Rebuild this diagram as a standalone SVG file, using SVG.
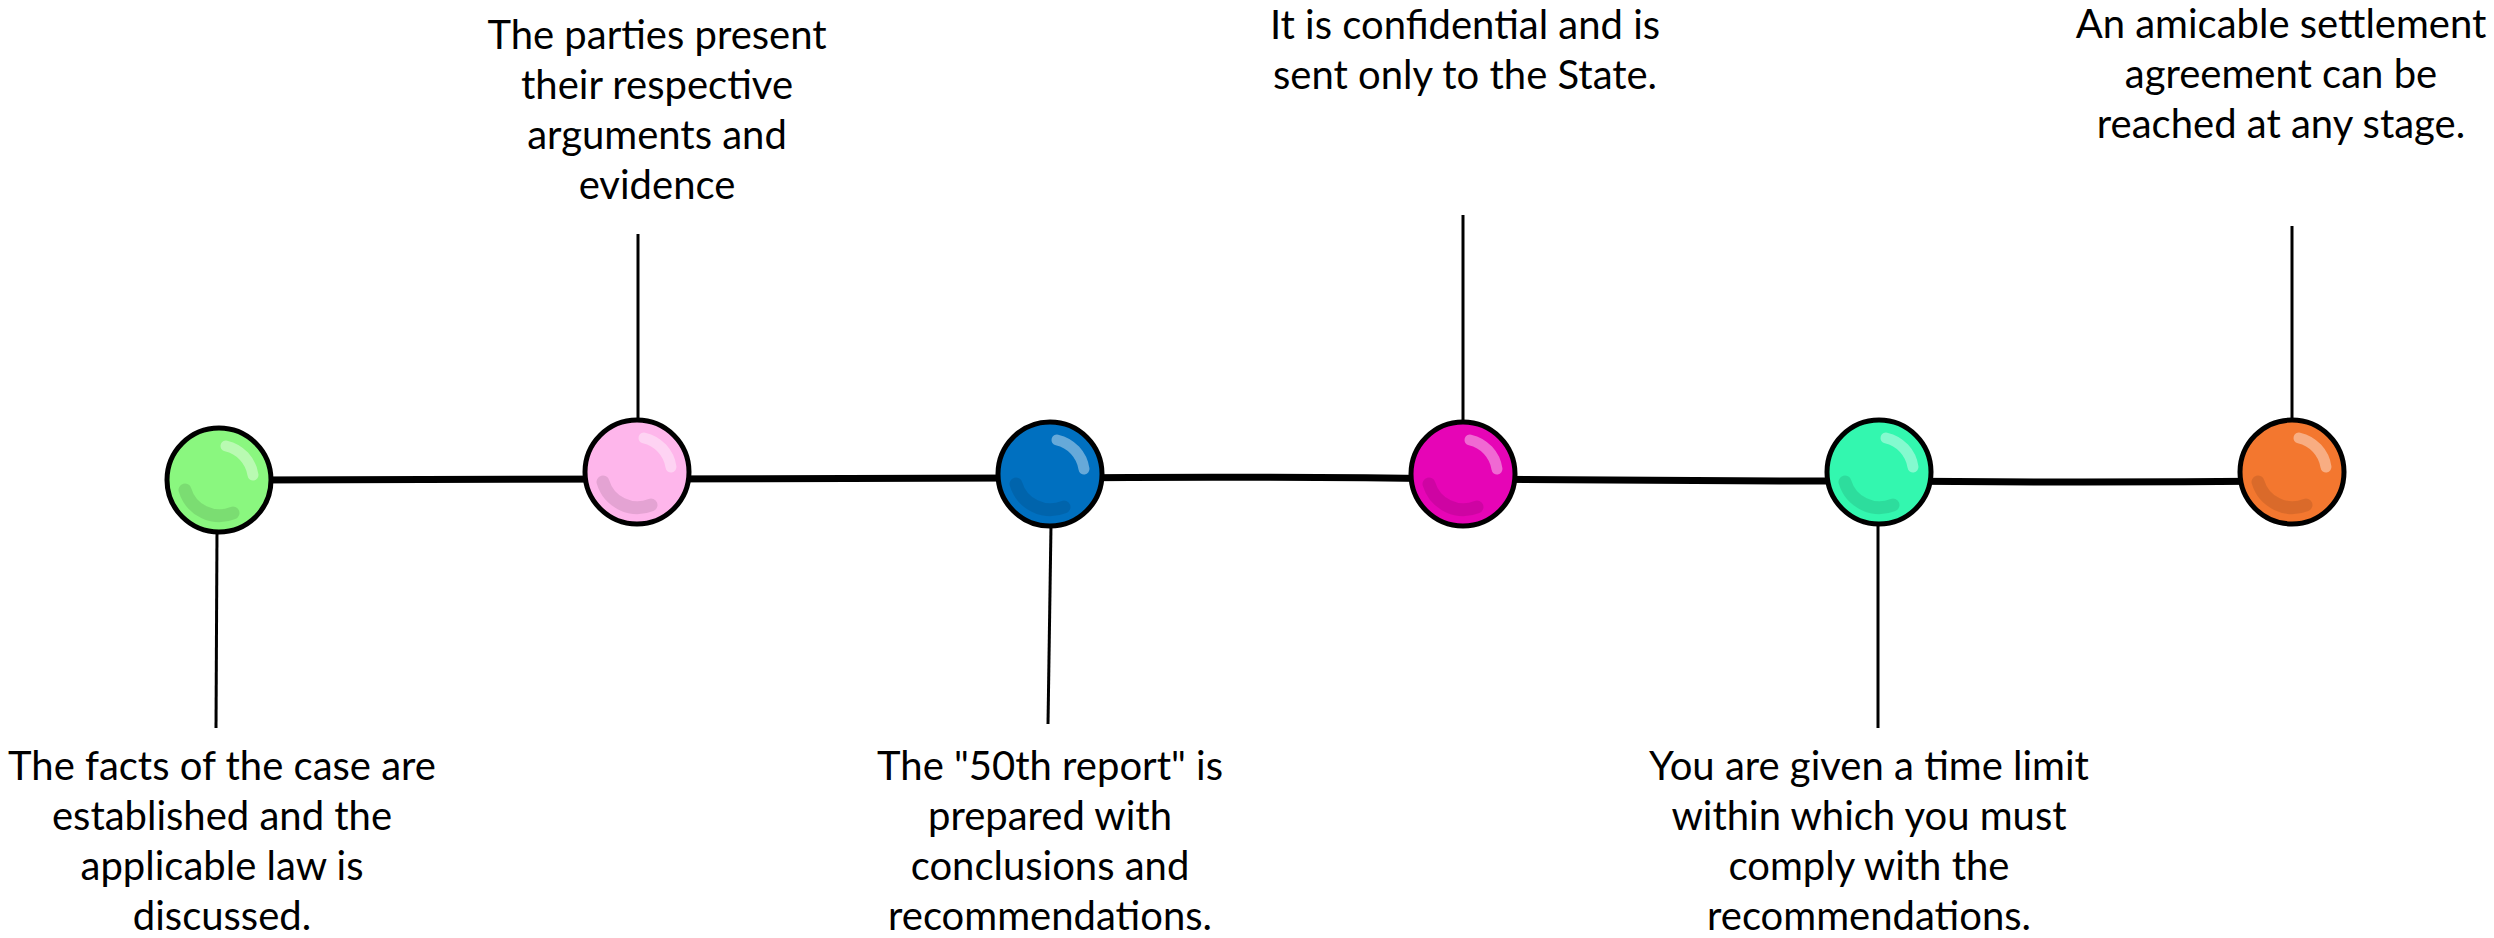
<svg xmlns="http://www.w3.org/2000/svg" width="2494" height="938" viewBox="0 0 2494 938">
<defs>
<style>
.lbl{font-family:Lato,"Liberation Sans",sans-serif;font-size:40px;fill:#000;text-anchor:middle}
.ball{stroke:#000;stroke-width:5}
.hi{fill:none;stroke:#fff;stroke-opacity:0.4;stroke-width:11;stroke-linecap:round}
.sh{fill:none;stroke:#000;stroke-opacity:0.1;stroke-width:13;stroke-linecap:round}
.stem{stroke:#000;stroke-width:3;fill:none}
.main{stroke:#000;stroke-width:7;fill:none}
</style>
<g id="sphere">
<path class="hi" d="M 7 -34 A 35 35 0 0 1 34 -5"/>
<path class="sh" d="M -34 10 A 36 36 0 0 0 14 33"/>
</g>
</defs>
<rect width="2494" height="938" fill="#fff"/>
<g id="connectors">
<path class="main" d="M 219 480 L 637 479 Q 840 478 1050 478 Q 1250 476 1463 479 Q 1670 481 1879 481 Q 2080 483 2292 481"/>
<line class="stem" x1="217" y1="530" x2="216" y2="728"/>
<line class="stem" x1="638" y1="234" x2="638" y2="422"/>
<line class="stem" x1="1051" y1="525" x2="1048" y2="724"/>
<line class="stem" x1="1463" y1="215" x2="1463" y2="424"/>
<line class="stem" x1="1878" y1="522" x2="1878" y2="728"/>
<line class="stem" x1="2292" y1="226" x2="2292" y2="422"/>
</g>
<g id="node1">
<circle class="ball" cx="219" cy="480" r="52" fill="#8AF77F"/>
<use href="#sphere" x="219" y="480"/>
<text class="lbl"><tspan x="222" y="780">The facts of the case are</tspan><tspan x="222" y="830">established and the</tspan><tspan x="222" y="880">applicable law is</tspan><tspan x="222" y="930">discussed.</tspan></text>
</g>
<g id="node2">
<circle class="ball" cx="637" cy="472" r="52" fill="#FEB6EB"/>
<use href="#sphere" x="637" y="472"/>
<text class="lbl"><tspan x="657" y="49">The parties present</tspan><tspan x="657" y="99">their respective</tspan><tspan x="657" y="149">arguments and</tspan><tspan x="657" y="199">evidence</tspan></text>
</g>
<g id="node3">
<circle class="ball" cx="1050" cy="474" r="52" fill="#0070C0"/>
<use href="#sphere" x="1050" y="474"/>
<text class="lbl"><tspan x="1050" y="780">The "50th report" is</tspan><tspan x="1050" y="830">prepared with</tspan><tspan x="1050" y="880">conclusions and</tspan><tspan x="1050" y="930">recommendations.</tspan></text>
</g>
<g id="node4">
<circle class="ball" cx="1463" cy="474" r="52" fill="#E605B6"/>
<use href="#sphere" x="1463" y="474"/>
<text class="lbl"><tspan x="1465" y="39">It is confidential and is</tspan><tspan x="1465" y="89">sent only to the State.</tspan></text>
</g>
<g id="node5">
<circle class="ball" cx="1879" cy="472" r="52" fill="#33F7AF"/>
<use href="#sphere" x="1879" y="472"/>
<text class="lbl"><tspan x="1869" y="780">You are given a time limit</tspan><tspan x="1869" y="830">within which you must</tspan><tspan x="1869" y="880">comply with the</tspan><tspan x="1869" y="930">recommendations.</tspan></text>
</g>
<g id="node6">
<circle class="ball" cx="2292" cy="472" r="52" fill="#F3772F"/>
<use href="#sphere" x="2292" y="472"/>
<text class="lbl"><tspan x="2281" y="38">An amicable settlement</tspan><tspan x="2281" y="88">agreement can be</tspan><tspan x="2281" y="138">reached at any stage.</tspan></text>
</g>
</svg>
